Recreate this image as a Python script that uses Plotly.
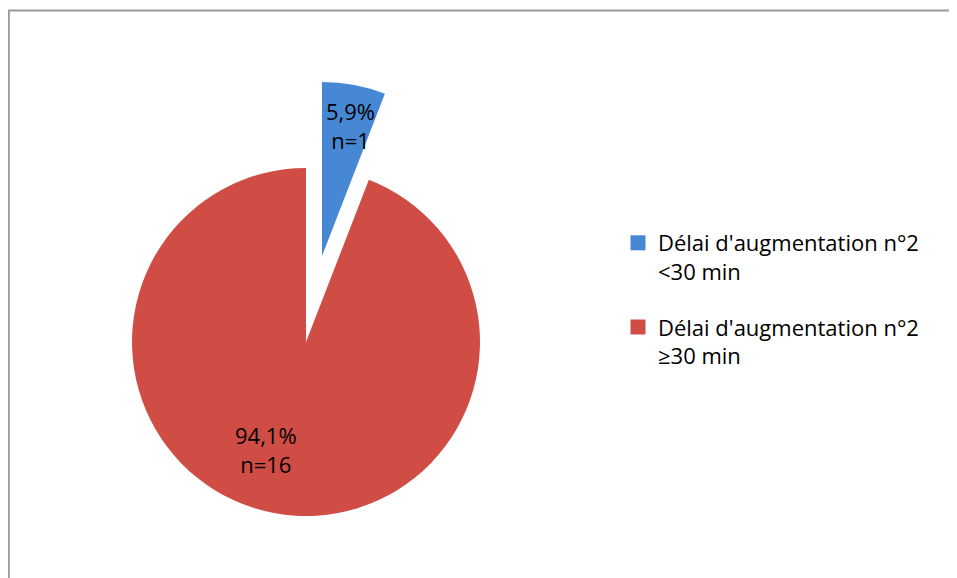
import plotly.graph_objects as go

# ---- data ----
labels = ["Délai d'augmentation n°2<br>&lt;30 min", "Délai d'augmentation n°2<br>≥30 min"]
counts = [1, 16]
colors = ["#4688D3", "#CF4D44"]

W, H = 957, 578
OFF = 8  # page body margin
FONT = "Open Sans"
FS = 22

def px_dom(cx, cy, r):
    cx -= OFF
    cy -= OFF
    return dict(x=[(cx - r) / W, (cx + r) / W], y=[1 - (cy + r) / H, 1 - (cy - r) / H])

def pxx(x):
    return (x - OFF) / W

def pxy(y):
    return 1 - (y - OFF) / H

R = 174
total = sum(counts)
slice_text = [f"{c / total * 100:.1f}%".replace(".", ",") + f"<br>n={c}" for c in counts]

fig = go.Figure()
# main (red) slice, un-exploded
fig.add_trace(go.Pie(
    labels=labels, values=counts, sort=False, direction="clockwise", rotation=0,
    marker=dict(colors=["rgba(0,0,0,0)", colors[1]], line=dict(width=0)),
    textinfo="none", domain=px_dom(306, 342, R), showlegend=False, hoverinfo="skip"))
# exploded (blue) slice
fig.add_trace(go.Pie(
    labels=labels, values=counts, sort=False, direction="clockwise", rotation=0,
    marker=dict(colors=[colors[0], "rgba(0,0,0,0)"], line=dict(width=0)),
    textinfo="none", domain=px_dom(322, 256, R), showlegend=False, hoverinfo="skip"))
# legend entries
for i, (lab, col) in enumerate(zip(labels, colors)):
    fig.add_trace(go.Scatter(x=[None], y=[None], mode="markers", name=lab,
                             legendgroup=f"g{i}",
                             marker=dict(symbol="square", size=15, color=col)))

label_pos = [(350, 125), (266, 450)]
annotations = [dict(x=pxx(x), y=pxy(y), xref="paper", yref="paper", text=t,
                    showarrow=False, xanchor="center", yanchor="middle",
                    font=dict(family=FONT, size=FS, color="black"))
               for t, (x, y) in zip(slice_text, label_pos)]

fig.update_layout(
    width=W, height=H, margin=dict(l=0, r=0, t=0, b=0),
    paper_bgcolor="white", plot_bgcolor="white",
    xaxis=dict(visible=False), yaxis=dict(visible=False),
    font=dict(family=FONT, size=FS, color="black"),
    legend=dict(x=pxx(618), y=pxy(222), xanchor="left", yanchor="top",
                valign="top", tracegroupgap=24, bgcolor="rgba(0,0,0,0)",
                font=dict(family=FONT, size=FS, color="black")),
    annotations=annotations,
    shapes=[dict(type="rect", xref="paper", yref="paper",
                 x0=0.8 / W, x1=1.03, y0=-0.03, y1=1 - 2.5 / H,
                 line=dict(color="#9A9A9A", width=2), fillcolor="rgba(0,0,0,0)")],
)

fig.write_html("out.html", config={"displayModeBar": False})
